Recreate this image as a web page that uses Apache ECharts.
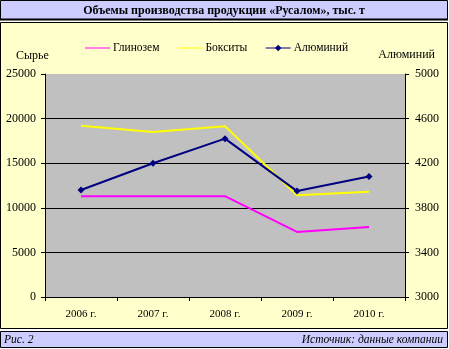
<!DOCTYPE html>
<html><head><meta charset="utf-8">
<script src="https://cdn.jsdelivr.net/npm/echarts@6/dist/echarts.min.js"></script>
<style>html,body{margin:0;padding:0;background:#fff}#c{width:449px;height:349px}</style>
</head><body><div id="c"></div>
<script>
const categories = ['2006 г.', '2007 г.', '2008 г.', '2009 г.', '2010 г.'];
const alumina = [11300, 11300, 11300, 7300, 7850];
const bauxite = [19200, 18500, 19150, 11400, 11800];
const aluminium = [3960, 4200, 4420, 3950, 4080];
const titleText = 'Объемы производства продукции «Русалом», тыс. т';
const figText = 'Рис. 2';
const sourceText = 'Источник: данные компании';
const F = '"Liberation Serif","Times New Roman",serif';
const lineIcon = 'path://M0,0L25,0L25,1L0,1Z';

const chart = echarts.init(document.getElementById('c'), null, {renderer: 'canvas'});
chart.setOption({
  animation: false,
  backgroundColor: '#ffffff',
  graphic: [
    {type: 'rect', z: -10, shape: {x: 0.5, y: 0.5, width: 447, height: 19}, style: {fill: '#ccccff', stroke: '#000', lineWidth: 1}},
    {type: 'line', z: -9, shape: {x1: 0, y1: 19.5, x2: 448, y2: 19.5}, style: {stroke: '#000', lineWidth: 2}},
    {type: 'rect', z: -10, shape: {x: 0.5, y: 22.5, width: 447, height: 306}, style: {fill: '#ffffcc', stroke: '#000', lineWidth: 1}},
    {type: 'rect', z: -10, shape: {x: 0.5, y: 331.5, width: 447, height: 16}, style: {fill: '#ccccff', stroke: '#000', lineWidth: 1}},
    {type: 'text', style: {text: titleText, x: 224, y: 11, align: 'center', verticalAlign: 'middle', font: 'bold 12px ' + F, fill: '#000'}},
    {type: 'text', style: {text: figText, x: 4, y: 340, align: 'left', verticalAlign: 'middle', font: 'italic 11.5px ' + F, fill: '#000'}},
    {type: 'text', style: {text: sourceText, x: 443, y: 340, align: 'right', verticalAlign: 'middle', font: 'italic 11.5px ' + F, fill: '#000'}},
    {type: 'text', style: {text: 'Сырье', x: 16, y: 56, align: 'left', verticalAlign: 'middle', font: '12px ' + F, fill: '#000'}},
    {type: 'text', style: {text: 'Алюминий', x: 435, y: 55, align: 'right', verticalAlign: 'middle', font: '12px ' + F, fill: '#000'}}
  ],
  legend: {
    left: 80, top: 37,
    itemWidth: 25, itemHeight: 8, itemGap: 18,
    lineStyle: {width: 1},
    textStyle: {fontFamily: F, fontSize: 11.5, color: '#000', padding: [0, 0, 0, -2]},
    data: [
      {name: 'Глинозем', icon: lineIcon},
      {name: 'Бокситы', icon: lineIcon},
      {name: 'Алюминий'}
    ]
  },
  grid: {left: 45, right: 44, top: 74, bottom: 52, show: true, backgroundColor: '#c0c0c0', borderWidth: 0},
  xAxis: {
    type: 'category', data: categories, boundaryGap: true,
    axisLine: {lineStyle: {color: '#000', width: 1}},
    axisTick: {show: true, length: 4, lineStyle: {color: '#000'}},
    axisLabel: {fontFamily: F, fontSize: 11, color: '#000', margin: 12}
  },
  yAxis: [
    {
      type: 'value', min: 0, max: 25000, interval: 5000, position: 'left',
      axisLine: {show: true, lineStyle: {color: '#000'}},
      axisTick: {show: true, length: 4, lineStyle: {color: '#000'}},
      axisLabel: {fontFamily: F, fontSize: 12, color: '#000', margin: 9, formatter: v => String(v)},
      splitLine: {show: true, lineStyle: {color: ['#000', '#000', '#000', '#000', '#000', '#c0c0c0'], width: 1}}
    },
    {
      type: 'value', min: 3000, max: 5000, interval: 400, position: 'right',
      axisLine: {show: true, lineStyle: {color: '#000'}},
      axisTick: {show: true, length: 4, lineStyle: {color: '#000'}},
      axisLabel: {fontFamily: F, fontSize: 12, color: '#000', margin: 10, formatter: v => String(v)},
      splitLine: {show: false}
    }
  ],
  series: [
    {name: 'Глинозем', type: 'line', yAxisIndex: 0, data: alumina, symbol: 'none', lineStyle: {color: '#ff00ff', width: 2}, itemStyle: {color: '#ff00ff'}},
    {name: 'Бокситы', type: 'line', yAxisIndex: 0, data: bauxite, symbol: 'none', lineStyle: {color: '#ffff00', width: 2}, itemStyle: {color: '#ffff00'}},
    {name: 'Алюминий', type: 'line', yAxisIndex: 1, data: aluminium, symbol: 'diamond', symbolSize: 7, lineStyle: {color: '#000080', width: 2}, itemStyle: {color: '#000080'}}
  ]
});
</script></body></html>
